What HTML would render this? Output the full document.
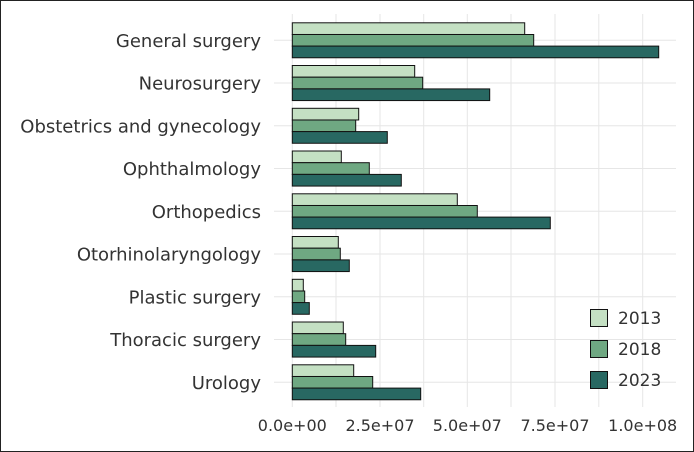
<!DOCTYPE html><html><head><style>body{margin:0;background:#fff}svg{display:block}text{font-family:"DejaVu Sans","Liberation Sans",sans-serif;fill:#333}</style></head><body>
<svg width="694" height="452" viewBox="0 0 694 452">
<rect x="0.5" y="0.5" width="693" height="451" fill="#fff" stroke="#222"/>
<g stroke="#e6e6e6" stroke-width="1">
<line x1="292.3" y1="14" x2="292.3" y2="407"/><line x1="336" y1="14" x2="336" y2="407"/><line x1="380" y1="14" x2="380" y2="407"/><line x1="423.7" y1="14" x2="423.7" y2="407"/><line x1="467.3" y1="14" x2="467.3" y2="407"/><line x1="511" y1="14" x2="511" y2="407"/><line x1="555" y1="14" x2="555" y2="407"/><line x1="598.8" y1="14" x2="598.8" y2="407"/><line x1="642.7" y1="14" x2="642.7" y2="407"/>
<line x1="274" y1="40.3" x2="676" y2="40.3"/><line x1="274" y1="83" x2="676" y2="83"/><line x1="274" y1="125.8" x2="676" y2="125.8"/><line x1="274" y1="168.5" x2="676" y2="168.5"/><line x1="274" y1="211.3" x2="676" y2="211.3"/><line x1="274" y1="254" x2="676" y2="254"/><line x1="274" y1="296.8" x2="676" y2="296.8"/><line x1="274" y1="339.5" x2="676" y2="339.5"/><line x1="274" y1="382.3" x2="676" y2="382.3"/>
</g>
<g stroke="#111" stroke-width="1">
<rect x="292.3" y="22.8" width="232.4" height="11.67" fill="#c4e0c3"/><rect x="292.3" y="34.5" width="241.4" height="11.67" fill="#6fa882"/><rect x="292.3" y="46.1" width="366.4" height="11.67" fill="#286862"/>
<rect x="292.3" y="65.5" width="122.4" height="11.67" fill="#c4e0c3"/><rect x="292.3" y="77.2" width="130.4" height="11.67" fill="#6fa882"/><rect x="292.3" y="88.9" width="197.4" height="11.67" fill="#286862"/>
<rect x="292.3" y="108.3" width="66.4" height="11.67" fill="#c4e0c3"/><rect x="292.3" y="120" width="63.4" height="11.67" fill="#6fa882"/><rect x="292.3" y="131.6" width="95" height="11.67" fill="#286862"/>
<rect x="292.3" y="151" width="49" height="11.67" fill="#c4e0c3"/><rect x="292.3" y="162.7" width="77" height="11.67" fill="#6fa882"/><rect x="292.3" y="174.4" width="109" height="11.67" fill="#286862"/>
<rect x="292.3" y="193.8" width="165" height="11.67" fill="#c4e0c3"/><rect x="292.3" y="205.5" width="185" height="11.67" fill="#6fa882"/><rect x="292.3" y="217.1" width="258" height="11.67" fill="#286862"/>
<rect x="292.3" y="236.5" width="46" height="11.67" fill="#c4e0c3"/><rect x="292.3" y="248.2" width="48" height="11.67" fill="#6fa882"/><rect x="292.3" y="259.9" width="57" height="11.67" fill="#286862"/>
<rect x="292.3" y="279.3" width="11" height="11.67" fill="#c4e0c3"/><rect x="292.3" y="291" width="12.4" height="11.67" fill="#6fa882"/><rect x="292.3" y="302.6" width="17" height="11.67" fill="#286862"/>
<rect x="292.3" y="322" width="51" height="11.67" fill="#c4e0c3"/><rect x="292.3" y="333.7" width="53.4" height="11.67" fill="#6fa882"/><rect x="292.3" y="345.4" width="83.4" height="11.67" fill="#286862"/>
<rect x="292.3" y="364.8" width="61.4" height="11.67" fill="#c4e0c3"/><rect x="292.3" y="376.5" width="80.4" height="11.67" fill="#6fa882"/><rect x="292.3" y="388.1" width="128.4" height="11.67" fill="#286862"/>
</g>
<g font-size="18" text-anchor="end">
<text x="261" y="47">General surgery</text><text x="261" y="89.5">Neurosurgery</text><text x="261" y="132.5">Obstetrics and gynecology</text><text x="261" y="175">Ophthalmology</text><text x="261" y="218">Orthopedics</text><text x="261" y="260.5">Otorhinolaryngology</text><text x="261" y="303.5">Plastic surgery</text><text x="261" y="346">Thoracic surgery</text><text x="261" y="389">Urology</text>
</g>
<g font-size="16" text-anchor="middle">
<text x="292.3" y="431">0.0e+00</text><text x="380" y="431">2.5e+07</text><text x="467.3" y="431">5.0e+07</text><text x="555" y="431">7.5e+07</text><text x="642.7" y="431">1.0e+08</text>
</g>
<g stroke="#111">
<rect x="590.5" y="309.5" width="17" height="17" fill="#c4e0c3"/><rect x="590.5" y="340.5" width="17" height="17" fill="#6fa882"/><rect x="590.5" y="371.5" width="17" height="17" fill="#286862"/>
</g>
<g font-size="17"><text x="618" y="324">2013</text><text x="618" y="355">2018</text><text x="618" y="386">2023</text></g>
</svg></body></html>
